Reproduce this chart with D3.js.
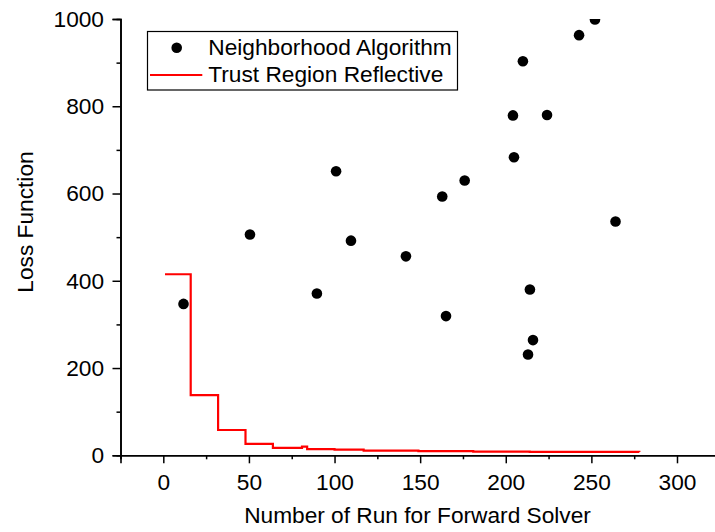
<!DOCTYPE html>
<html>
<head>
<meta charset="utf-8">
<script src="https://cdn.jsdelivr.net/npm/d3@7"></script>
<style>
  body { margin: 0; background: #fff; }
  svg { display: block; font-family: "Liberation Sans", Arial, sans-serif; }
</style>
</head>
<body>
<svg width="715" height="532"></svg>
<script>
// Neighborhood Algorithm samples (run number, loss)
var naRun  = [11.8, 50.6, 89.7, 100.9, 109.6, 141.7, 162.9, 165.1, 176.0, 204.2, 204.8, 210.0, 214.1, 213.0, 215.9, 224.1, 242.8, 252.1, 264.1];
var naLoss = [347, 506, 371, 651, 492, 456, 593, 319, 630, 779, 683, 903, 380, 231, 264, 780, 963, 999, 536];

// Trust Region Reflective best loss so far (step line)
var trrRun  = [1, 16, 32, 48, 64, 81, 84, 100, 117, 149, 181, 214, 278];
var trrLoss = [415, 138, 58, 26, 17, 20, 14, 13, 10.5, 9.5, 8.5, 7.8, 7.5];

var xMajor = [0, 50, 100, 150, 200, 250, 300];
var xMinor = [-25, 25, 75, 125, 175, 225, 275, 325];
var yMajor = [0, 200, 400, 600, 800, 1000];
var yMinor = [100, 300, 500, 700, 900];

var svg = d3.select("svg");
var fs = 22.7;

var x = d3.scaleLinear().domain([-25, 325]).range([120.5, 719.8]);
var y = d3.scaleLinear().domain([0, 1000]).range([455.3, 19]);

svg.append("defs").append("clipPath").attr("id", "clip")
  .append("rect")
  .attr("x", x(-25)).attr("y", y(1000))
  .attr("width", 715 - x(-25)).attr("height", y(0) - y(1000));

// axes
var gx = svg.append("g").attr("transform", "translate(0," + y(0) + ")");
gx.call(d3.axisBottom(x).tickValues(xMinor).tickSize(4).tickFormat(""));
gx.append("g").call(d3.axisBottom(x).tickValues(xMajor).tickSize(8).tickPadding(11).tickFormat(d3.format("d")));

var gy = svg.append("g").attr("transform", "translate(" + x(-25) + ",0)");
gy.call(d3.axisLeft(y).tickValues(yMinor).tickSize(4).tickFormat(""));
gy.append("g").call(d3.axisLeft(y).tickValues(yMajor).tickSize(8).tickPadding(8.5).tickFormat(d3.format("d")));

svg.selectAll(".domain").attr("stroke", "#000").attr("stroke-width", 1.6);
svg.selectAll(".tick line").attr("stroke", "#000").attr("stroke-width", 1.5);
svg.selectAll(".tick text").attr("font-size", fs).attr("font-family", "Liberation Sans, Arial, sans-serif").attr("fill", "#000");
// inner major groups duplicate the domain; drop them
gx.select("g").select(".domain").remove();
gy.select("g").select(".domain").remove();

// titles
svg.append("text")
  .attr("x", (244 + 591) / 2).attr("y", 523.3)
  .attr("text-anchor", "middle").attr("font-size", fs)
  .text("Number of Run for Forward Solver");

svg.append("text")
  .attr("transform", "translate(33.3,222) rotate(-90)")
  .attr("text-anchor", "middle").attr("font-size", fs)
  .text("Loss Function");

// data
var plot = svg.append("g").attr("clip-path", "url(#clip)");

var trr = trrRun.map(function (r, i) { return [r, trrLoss[i]]; });
plot.append("path")
  .datum(trr)
  .attr("fill", "none")
  .attr("stroke", "#ff0000")
  .attr("stroke-width", 2.2)
  .attr("d", d3.line().x(d => x(d[0])).y(d => y(d[1])).curve(d3.curveStepAfter));

plot.selectAll(".dot")
  .data(naRun.map(function (r, i) { return [r, naLoss[i]]; }))
  .enter().append("circle")
  .attr("class", "dot")
  .attr("cx", d => x(d[0]))
  .attr("cy", d => y(d[1]))
  .attr("r", 5.3)
  .attr("fill", "#000");

// legend
var lg = svg.append("g");
lg.append("rect")
  .attr("x", 147.5).attr("y", 31.5).attr("width", 310).attr("height", 58.5)
  .attr("fill", "#fff").attr("stroke", "#000").attr("stroke-width", 1.2);
lg.append("circle").attr("cx", 176.7).attr("cy", 47.7).attr("r", 5.3).attr("fill", "#000");
lg.append("line")
  .attr("x1", 150).attr("x2", 202.3).attr("y1", 75).attr("y2", 75)
  .attr("stroke", "#ff0000").attr("stroke-width", 2.2);
lg.append("text").attr("x", 208.3).attr("y", 54.5).attr("font-size", fs).text("Neighborhood Algorithm");
lg.append("text").attr("x", 208.3).attr("y", 81.5).attr("font-size", fs).text("Trust Region Reflective");
</script>
</body>
</html>
